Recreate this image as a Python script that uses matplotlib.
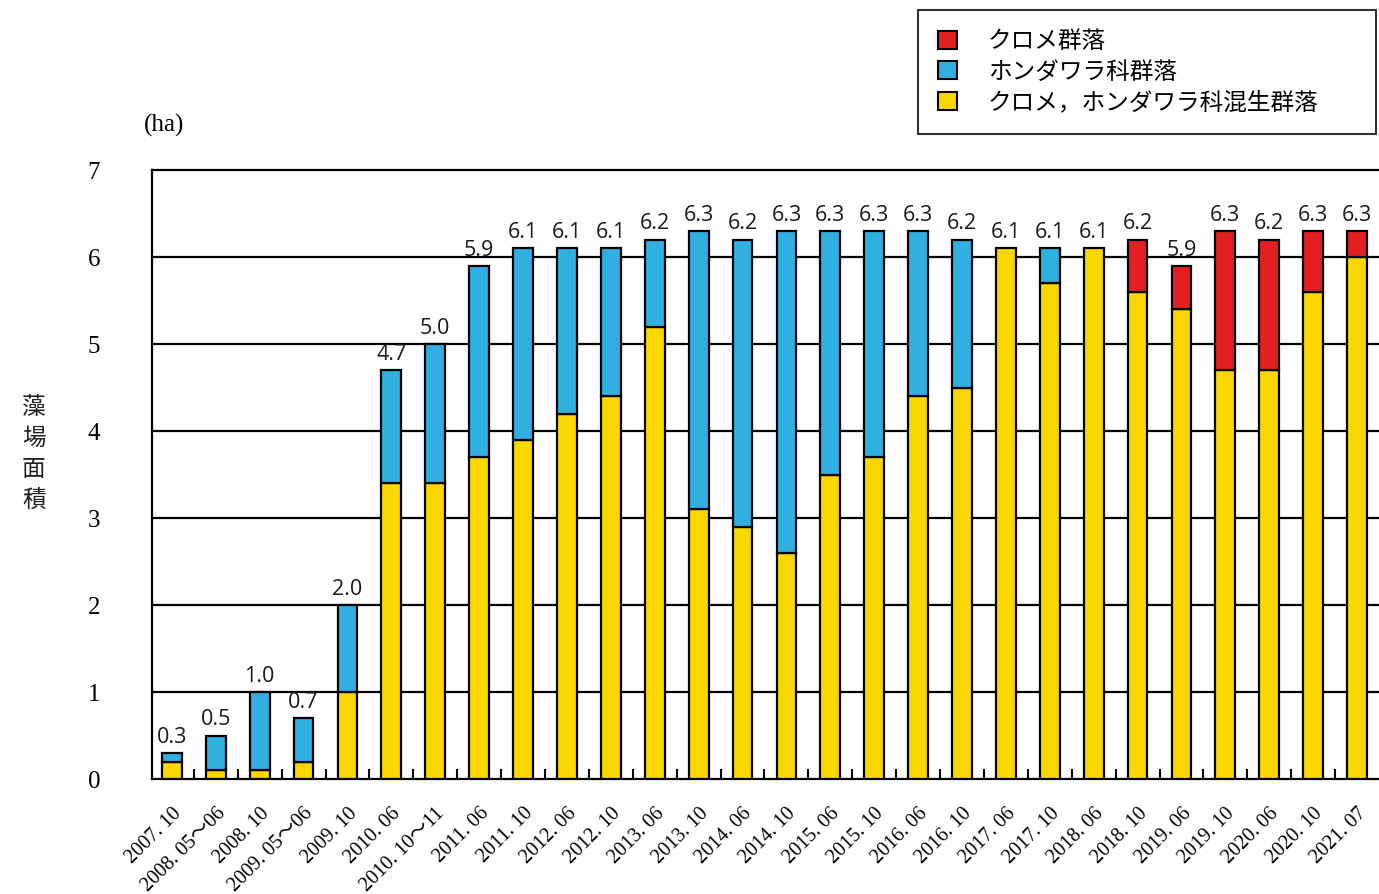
import numpy as np
import matplotlib
matplotlib.use("Agg")
import matplotlib.pyplot as plt
from matplotlib.patches import Patch

plt.rcParams['font.family'] = ['Liberation Serif', 'Noto Sans CJK JP']

# survey dates
dates = ['2007. 10', '2008. 05～06', '2008. 10', '2009. 05～06', '2009. 10',
         '2010. 06', '2010. 10～11', '2011. 06', '2011. 10', '2012. 06',
         '2012. 10', '2013. 06', '2013. 10', '2014. 06', '2014. 10',
         '2015. 06', '2015. 10', '2016. 06', '2016. 10', '2017. 06',
         '2017. 10', '2018. 06', '2018. 10', '2019. 06', '2019. 10',
         '2020. 06', '2020. 10', '2021. 07']

# area (ha) by community type
mixed = [0.2, 0.1, 0.1, 0.2, 1.0, 3.4, 3.4, 3.7, 3.9, 4.2, 4.4, 5.2, 3.1, 2.9,
         2.6, 3.5, 3.7, 4.4, 4.5, 6.1, 5.7, 6.1, 5.6, 5.4, 4.7, 4.7, 5.6, 6.0]
hondawara = [0.1, 0.4, 0.9, 0.5, 1.0, 1.3, 1.6, 2.2, 2.2, 1.9, 1.7, 1.0, 3.2, 3.3,
             3.7, 2.8, 2.6, 1.9, 1.7, 0.0, 0.4, 0.0, 0.0, 0.0, 0.0, 0.0, 0.0, 0.0]
kurome = [0.0, 0.0, 0.0, 0.0, 0.0, 0.0, 0.0, 0.0, 0.0, 0.0, 0.0, 0.0, 0.0, 0.0,
          0.0, 0.0, 0.0, 0.0, 0.0, 0.0, 0.0, 0.0, 0.6, 0.5, 1.6, 1.5, 0.7, 0.3]
totals = [0.3, 0.5, 1.0, 0.7, 2.0, 4.7, 5.0, 5.9, 6.1, 6.1, 6.1, 6.2, 6.3, 6.2,
          6.3, 6.3, 6.3, 6.3, 6.2, 6.1, 6.1, 6.1, 6.2, 5.9, 6.3, 6.2, 6.3, 6.3]

c_red = '#e3201f'
c_blue = '#2fb0e0'
c_yellow = '#fad700'

fig = plt.figure(figsize=(13.79, 8.94), dpi=100)
ax = fig.add_axes([0.110, 0.1286, 0.890, 0.6812])

x = np.arange(len(dates))
mixed = np.array(mixed)
hondawara = np.array(hondawara)
kurome = np.array(kurome)
w = 0.45
kw = dict(width=w, edgecolor='black', linewidth=1.6, zorder=3)
ax.bar(x, mixed, color=c_yellow, **kw)
ax.bar(x[hondawara > 0], hondawara[hondawara > 0], bottom=mixed[hondawara > 0], color=c_blue, **kw)
ax.bar(x[kurome > 0], kurome[kurome > 0], bottom=(mixed + hondawara)[kurome > 0], color=c_red, **kw)

for xi, t in zip(x, totals):
    ax.text(xi, t + 0.06, f'{t:.1f}', ha='center', va='bottom', fontsize=15.5,
            family=['Open Sans'], weight='medium', color='#1a1a1a')

ax.set_xlim(-0.46, len(dates) - 0.5)
ax.set_ylim(0, 7)
ax.set_yticks(range(0, 8))
ax.set_yticklabels([str(i) for i in range(0, 8)], fontsize=18)
ax.tick_params(axis='y', length=0, pad=37)
for yv in range(1, 7):
    ax.axhline(yv, color='black', linewidth=1.6, zorder=1)

ax.set_xticks(x)
ax.set_xticklabels(dates, rotation=45, ha='right', rotation_mode='anchor', fontsize=14.5)
ax.tick_params(axis='x', length=0, pad=18)
ax.set_xticks(x[:-1] + 0.5, minor=True)
ax.tick_params(axis='x', which='minor', direction='in', length=7, width=1.5)

for s in ['left', 'top', 'bottom']:
    ax.spines[s].set_linewidth(1.6)
ax.spines['right'].set_visible(False)

fig.text(0.104, 0.853, '(ha)', fontsize=18)
fig.text(0.016, 0.492, '藻\n場\n面\n積', fontsize=17, family=['Noto Sans CJK JP'],
         va='center', ha='left', linespacing=1.45, color='#222222')

handles = [Patch(facecolor=c_red, edgecolor='black', linewidth=1.5),
           Patch(facecolor=c_blue, edgecolor='black', linewidth=1.5),
           Patch(facecolor=c_yellow, edgecolor='black', linewidth=1.5)]
labels = ['クロメ群落', 'ホンダワラ科群落', 'クロメ，ホンダワラ科混生群落']
leg = fig.legend(handles, labels, loc='upper left', bbox_to_anchor=(0.666, 0.989, 0.332, 0.0),
                 mode='expand', prop={'family': ['Noto Sans CJK JP'], 'size': 17},
                 frameon=True, fancybox=False, edgecolor='black', handlelength=0.8,
                 handleheight=0.8, handletextpad=1.3, labelspacing=0.32, borderpad=0.85,
                 borderaxespad=0)
leg.get_frame().set_linewidth(1.5)

fig.savefig('out.png', dpi=100)
